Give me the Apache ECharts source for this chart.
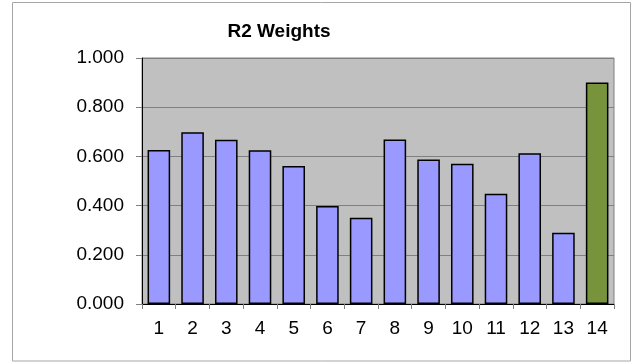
<!DOCTYPE html>
<html>
<head>
<meta charset="utf-8">
<script src="https://cdn.jsdelivr.net/npm/echarts@6/dist/echarts.min.js"></script>
<style>
  html, body { margin: 0; padding: 0; background: #ffffff; }
  #chart { width: 635px; height: 363px; }
</style>
</head>
<body>
<div id="chart"></div>
<script>
// Category labels along the x axis
const categories = ['1', '2', '3', '4', '5', '6', '7', '8', '9', '10', '11', '12', '13', '14'];
// R2 weight per category
const weights = [0.626, 0.698, 0.668, 0.625, 0.561, 0.398, 0.351, 0.669, 0.587, 0.570, 0.448, 0.613, 0.290, 0.900];
// Index of the highlighted (final) bar
const highlightIndex = 13;

const baseColor = '#9999FF';
const highlightColor = '#77933C';

const chart = echarts.init(document.getElementById('chart'), null, { renderer: 'canvas' });

const seriesData = weights.map((v, i) => ({
  value: v,
  itemStyle: { color: i === highlightIndex ? highlightColor : baseColor }
}));

chart.setOption({
  animation: false,
  backgroundColor: '#ffffff',
  title: {
    text: 'R2 Weights',
    left: 274,
    top: 17,
    textAlign: 'center',
    textStyle: {
      fontFamily: 'Liberation Sans, Arial, sans-serif',
      fontSize: 19,
      fontWeight: 'bold',
      color: '#000000'
    }
  },
  graphic: [{
    type: 'rect',
    shape: { x: 12.5, y: 2.5, width: 618, height: 358.5 },
    style: { fill: 'none', stroke: '#a6a6a6', lineWidth: 1 },
    silent: true,
    z: -1
  }],
  grid: {
    left: 142,
    top: 58,
    right: 21,
    bottom: 59,
    show: true,
    backgroundColor: '#C0C0C0',
    borderColor: '#808080',
    borderWidth: 1
  },
  xAxis: {
    type: 'category',
    data: categories,
    axisLine: { show: true, lineStyle: { color: '#000000', width: 1 } },
    axisTick: { show: true, length: 5, inside: false, lineStyle: { color: '#808080' } },
    axisLabel: {
      margin: 15,
      fontFamily: 'Liberation Sans, Arial, sans-serif',
      fontSize: 19,
      color: '#000000'
    },
    splitLine: { show: false }
  },
  yAxis: {
    type: 'value',
    min: 0,
    max: 1,
    interval: 0.2,
    axisLine: { show: true, lineStyle: { color: '#000000', width: 1 } },
    axisTick: { show: true, length: 6, inside: false, lineStyle: { color: '#808080' } },
    axisLabel: {
      margin: 18,
      fontFamily: 'Liberation Sans, Arial, sans-serif',
      fontSize: 19,
      color: '#000000',
      formatter: v => v.toFixed(3)
    },
    splitLine: { show: true, lineStyle: { color: '#808080', width: 1 } }
  },
  series: [{
    type: 'bar',
    data: seriesData,
    barCategoryGap: '33%',
    itemStyle: { borderColor: '#000000', borderWidth: 1.5 }
  }]
});
</script>
</body>
</html>
